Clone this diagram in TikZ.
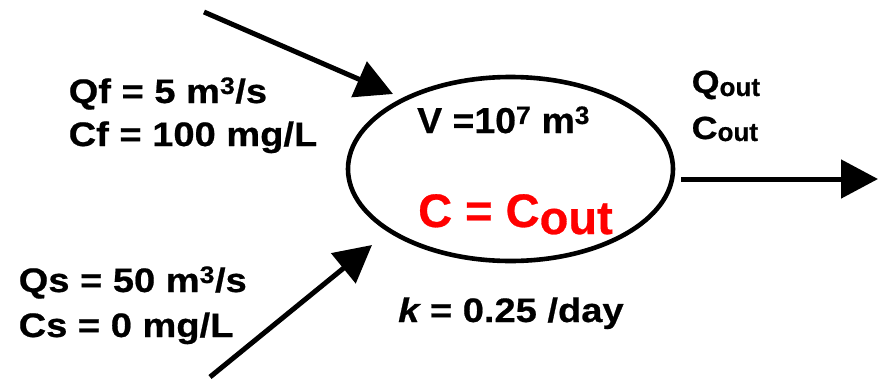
\documentclass[tikz,border=0pt]{standalone}
\usepackage{fontspec}
\setmainfont{Liberation Sans}
\newfontfamily\wide{Liberation Sans}[UprightFont=* Bold, ItalicFont=* Bold Italic, FakeStretch=1.12, FakeBold=0.6]
\newfontfamily\midwide{Liberation Sans}[UprightFont=* Bold, FakeStretch=1.04, FakeBold=0.6]
\newfontfamily\plainbold{Liberation Sans}[UprightFont=* Bold, FakeBold=0.6]
\usetikzlibrary{arrows.meta,shapes.geometric}
\begin{document}
\begin{tikzpicture}[x=1pt,y=-1pt,
  lbl/.style={anchor=base west, inner sep=0pt, font=\wide\fontsize{34}{34}\selectfont},
  outlbl/.style={anchor=base west, inner sep=0pt, font=\wide\fontsize{32}{32}\selectfont},
  flow/.style={line width=5pt, -{Triangle[length=37pt,width=38pt]}}]
\useasboundingbox (0,0) rectangle (881,381);
\node[draw, line width=4.6pt, ellipse, minimum width=325pt, minimum height=184pt, inner sep=0pt] (lake) at (510.5,169) {};
% labels
\node[lbl] (qf) at (68.5,103) {Qf = 5 m\textsuperscript{3}/s};
\node[lbl] (cf) at (68.5,146) {Cf = 100 mg/L};
\node[lbl] (qs) at (18.5,292) {Qs = 50 m\textsuperscript{3}/s};
\node[lbl] (cs) at (18.5,337) {Cs = 0 mg/L};
\node[lbl] (k) at (398,322) {\itshape k\upshape{} = 0.25 /day};
\node[anchor=base west, inner sep=0pt, font=\midwide\fontsize{36}{36}\selectfont] (vol) at (417,133) {V =10\textsuperscript{7} m\textsuperscript{3}};
\node[anchor=base west, inner sep=0pt, text=red, font=\plainbold\fontsize{47}{47}\selectfont] (conc) at (418,227) {C = C\raisebox{-7pt}{out}};
\node[outlbl] (qout) at (691.5,93) {Q{\plainbold\fontsize{26}{26}\selectfont\raisebox{-3pt}{out}}};
\node[outlbl] (cout) at (691.5,139) {C{\plainbold\fontsize{26}{26}\selectfont\raisebox{-2pt}{out}}};
% arrows
\coordinate (f0) at (204,12);
\coordinate (f1) at (393,94);
\coordinate (s0) at (210,377);
\coordinate (s1) at (372,245);
\coordinate (o0) at (681,179);
\coordinate (o1) at (878,179);
\draw[flow] (f0) -- (f1);
\draw[flow] (s0) -- (s1);
\draw[flow] (o0) -- (o1);
\end{tikzpicture}
\end{document}
